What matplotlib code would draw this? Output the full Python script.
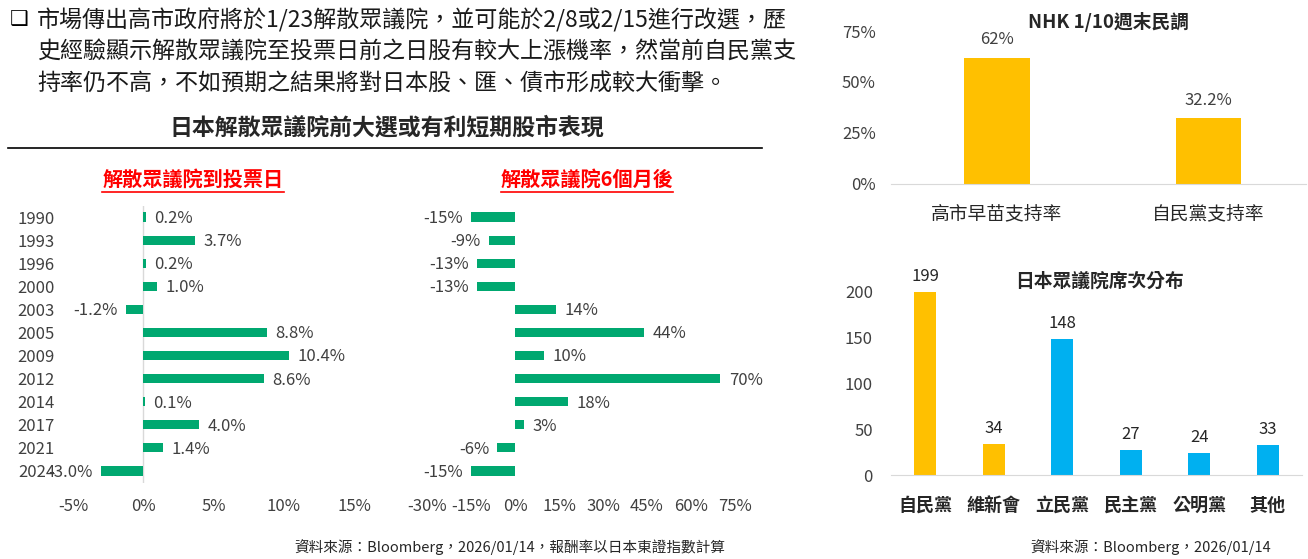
import matplotlib
matplotlib.use('Agg')
import matplotlib.pyplot as plt
from matplotlib.lines import Line2D

plt.rcParams['font.family'] = ['Noto Sans CJK TC', 'DejaVu Sans']

W, H = 1308, 559

# ---- data ----
years = ['1990', '1993', '1996', '2000', '2003', '2005', '2009', '2012', '2014', '2017', '2021', '2024']
to_vote = [0.2, 3.7, 0.2, 1.0, -1.2, 8.8, 10.4, 8.6, 0.1, 4.0, 1.4, -3.0]
six_month = [-15, -9, -13, -13, 14, 44, 10, 70, 18, 3, -6, -15]

nhk_labels = ['高市早苗支持率', '自民黨支持率']
nhk_values = [62, 32.2]

seat_parties = ['自民黨', '維新會', '立民黨', '民主黨', '公明黨', '其他']
seat_counts = [199, 34, 148, 27, 24, 33]

body_lines = [
    '市場傳出高市政府將於1/23解散眾議院，並可能於2/8或2/15進行改選，歷',
    '史經驗顯示解散眾議院至投票日前之日股有較大上漲機率，然當前自民黨支',
    '持率仍不高，不如預期之結果將對日本股、匯、債市形成較大衝擊。',
]

GREEN = '#00A870'
GOLD = '#FFC000'
BLUE = '#00B0F0'
TXT = '#404040'
GRID = '#D9D9D9'


def px(x, y):
    return x / W, 1 - y / H


def add_axes(x0, y0, x1, y1):
    # pixel box -> figure fraction
    return fig.add_axes([x0 / W, 1 - y1 / H, (x1 - x0) / W, (y1 - y0) / H])


fig = plt.figure(figsize=(W / 100, H / 100), dpi=100)

# ---- header text ----
fig.text(*px(10, 19), '❑', family=['DejaVu Sans'], fontsize=15, fontweight='bold',
         va='center', ha='left', color='black')
for i, line in enumerate(body_lines):
    fig.text(*px(37, 20 + 32 * i), line, fontsize=16.6, va='center', ha='left', color='#1a1a1a')

fig.text(*px(387, 128), '日本解散眾議院前大選或有利短期股市表現', fontsize=16.5,
         fontweight='bold', ha='center', va='center', color='#262626')
fig.add_artist(Line2D([8 / W, 762 / W], [1 - 148 / H] * 2, color='black', lw=1.2))

sub1 = fig.text(*px(193, 179), '解散眾議院到投票日', fontsize=14.5, fontweight='bold',
                ha='center', va='center', color='#FF0000')
sub2 = fig.text(*px(587, 179), '解散眾議院6個月後', fontsize=14.5, fontweight='bold',
                ha='center', va='center', color='#FF0000')

# ---- chart 1: to voting day ----
ax1 = add_axes(73, 205.5, 354, 482.5)
ax1.barh(years, to_vote, height=0.4, color=GREEN)
ax1.set_xlim(-5, 15)
ax1.set_ylim(len(years) - 0.5, -0.5)
ax1.axvline(0, color=GRID, lw=1, zorder=0)
ax1.set_xticks([-5, 0, 5, 10, 15])
ax1.set_xticklabels(['-5%', '0%', '5%', '10%', '15%'])
for i, v in enumerate(to_vote):
    ax1.annotate(f'{v:.1f}%', (v, i), xytext=(6 if v >= 0 else -6, -1), textcoords='offset points',
                 ha='left' if v >= 0 else 'right', va='center', fontsize=12, color=TXT)
ax1.tick_params(axis='both', length=0, labelsize=12, labelcolor=TXT)
ax1.tick_params(axis='y', pad=13)
ax1.tick_params(axis='x', pad=11)
for s in ax1.spines.values():
    s.set_visible(False)
ax1.patch.set_alpha(0)

# ---- chart 2: six months after ----
ax2 = add_axes(427, 205.5, 735, 482.5)
ax2.barh(years, six_month, height=0.4, color=GREEN)
ax2.set_xlim(-30, 75)
ax2.set_ylim(len(years) - 0.5, -0.5)
ax2.set_xticks([-30, -15, 0, 15, 30, 45, 60, 75])
ax2.set_xticklabels(['-30%', '-15%', '0%', '15%', '30%', '45%', '60%', '75%'])
ax2.set_yticks([])
for i, v in enumerate(six_month):
    ax2.annotate(f'{v:d}%', (v, i), xytext=(6 if v >= 0 else -6, -1), textcoords='offset points',
                 ha='left' if v >= 0 else 'right', va='center', fontsize=12, color=TXT)
ax2.tick_params(axis='both', length=0, labelsize=12, labelcolor=TXT)
ax2.tick_params(axis='x', pad=11)
for s in ax2.spines.values():
    s.set_visible(False)
ax2.patch.set_alpha(0)

# ---- chart 3: NHK poll ----
ax3 = add_axes(891, 31, 1306, 184)
ax3.bar(range(len(nhk_values)), nhk_values, width=0.31, color=GOLD)
ax3.set_xlim(-0.5, 1.46)
ax3.set_ylim(0, 75)
ax3.set_yticks([0, 25, 50, 75])
ax3.set_yticklabels(['0%', '25%', '50%', '75%'])
ax3.set_xticks(range(len(nhk_labels)))
ax3.set_xticklabels(nhk_labels, fontsize=13.5, color='#262626')
for i, v in enumerate(nhk_values):
    ax3.annotate(f'{v:g}%', (i, v), xytext=(0, 7), textcoords='offset points',
                 ha='center', va='bottom', fontsize=12, color=TXT)
ax3.tick_params(axis='both', length=0)
ax3.tick_params(axis='y', labelsize=12, labelcolor=TXT, pad=11)
ax3.tick_params(axis='x', pad=14)
for s in ['top', 'right', 'left']:
    ax3.spines[s].set_visible(False)
ax3.spines['bottom'].set_color(GRID)
ax3.patch.set_alpha(0)
fig.text(*px(1108, 22), 'NHK 1/10週末民調', fontsize=13.5, fontweight='bold',
         ha='center', va='center', color='#262626')

# ---- chart 4: seats ----
seat_colors = [GOLD, GOLD, BLUE, BLUE, BLUE, BLUE]
ax4 = add_axes(891, 291, 1302, 475)
ax4.bar(range(len(seat_counts)), seat_counts, width=0.32, color=seat_colors)
ax4.set_xlim(-0.5, len(seat_counts) - 0.5)
ax4.set_ylim(0, 200)
ax4.set_yticks([0, 50, 100, 150, 200])
ax4.set_xticks(range(len(seat_parties)))
ax4.set_xticklabels(seat_parties, fontsize=13, fontweight='bold', color='#262626')
for i, v in enumerate(seat_counts):
    ax4.annotate(f'{v}', (i, v), xytext=(0, 5), textcoords='offset points',
                 ha='center', va='bottom', fontsize=12, color='#262626')
ax4.tick_params(axis='both', length=0)
ax4.tick_params(axis='y', labelsize=12, labelcolor=TXT, pad=13)
ax4.tick_params(axis='x', pad=15)
for s in ['top', 'right', 'left']:
    ax4.spines[s].set_visible(False)
ax4.spines['bottom'].set_color(GRID)
ax4.patch.set_alpha(0)
fig.text(*px(1099, 281), '日本眾議院席次分布', fontsize=13.5, fontweight='bold',
         ha='center', va='center', color='#262626')

# ---- footers ----
fig.text(*px(510, 547), '資料來源：Bloomberg，2026/01/14，報酬率以日本東證指數計算',
         fontsize=10.5, ha='center', va='center', color='#262626')
fig.text(*px(1151, 547), '資料來源：Bloomberg，2026/01/14',
         fontsize=10.5, ha='center', va='center', color='#262626')

# underline for the red subtitles
fig.canvas.draw()
renderer = fig.canvas.get_renderer()
for t in (sub1, sub2):
    bb = t.get_window_extent(renderer)
    y = (bb.y0 - 2) / H
    fig.add_artist(Line2D([bb.x0 / W, bb.x1 / W], [y, y], color='#FF0000', lw=1.2))

fig.savefig('out.png', dpi=100)
plt.close(fig)
